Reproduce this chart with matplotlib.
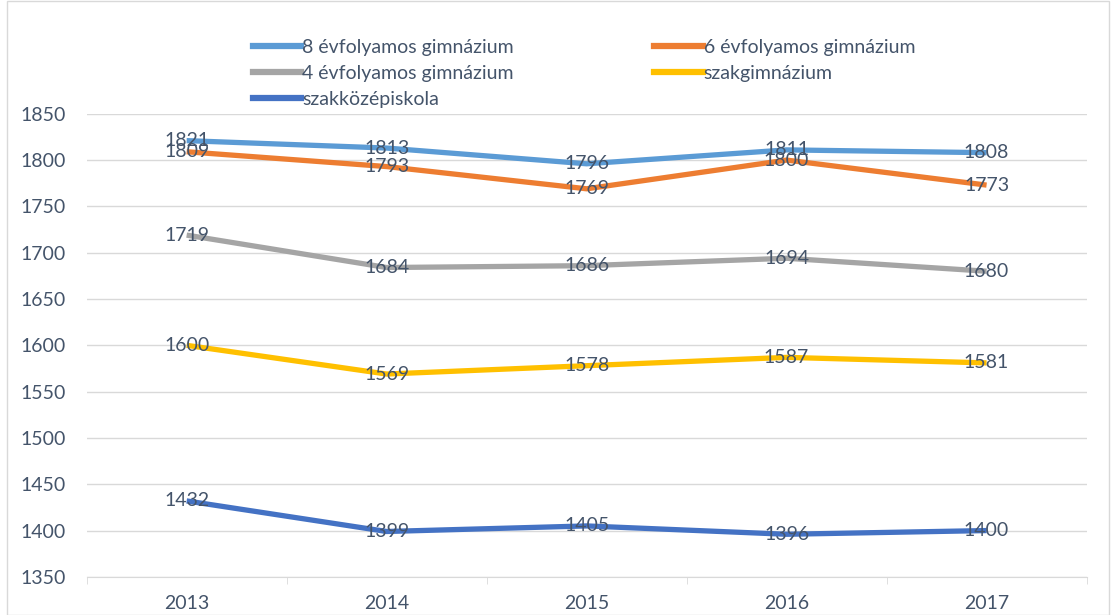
import matplotlib.pyplot as plt
from matplotlib.patches import Rectangle
from matplotlib.lines import Line2D

years = ['2013', '2014', '2015', '2016', '2017']
names = ['8 évfolyamos gimnázium', '6 évfolyamos gimnázium', '4 évfolyamos gimnázium',
         'szakgimnázium', 'szakközépiskola']
gimn8 = [1821, 1813, 1796, 1811, 1808]
gimn6 = [1809, 1793, 1769, 1800, 1773]
gimn4 = [1719, 1684, 1686, 1694, 1680]
szakgimn = [1600, 1569, 1578, 1587, 1581]
szakkozep = [1432, 1399, 1405, 1396, 1400]
series = [gimn8, gimn6, gimn4, szakgimn, szakkozep]
colors = ['#5B9BD5', '#ED7D31', '#A5A5A5', '#FFC000', '#4472C4']

txt = '#44546A'
plt.rcParams['font.family'] = ['Lato', 'DejaVu Sans']

fig = plt.figure(figsize=(11.11, 6.15), dpi=100)
ax = fig.add_axes([0.078, 0.062, 0.9, 0.753])

x = range(len(years))
for vals, name, c in zip(series, names, colors):
    ax.plot(x, vals, color=c, lw=3.8, solid_capstyle='butt', label=name, zorder=3)
    # data labels centered on the points, like the original
    for i, v in zip(x, vals):
        ax.text(i, v, str(v), ha='center', va='center', fontsize=14, color=txt, zorder=4)

ax.set_xlim(-0.5, 4.5)
ax.set_ylim(1350, 1850)
ax.set_yticks(range(1350, 1851, 50))
ax.set_xticks(list(x))
ax.set_xticklabels(years)
ax.set_xticks([i - 0.5 for i in range(6)], minor=True)
ax.grid(axis='y', color='#D9D9D9', lw=1)
ax.set_axisbelow(True)
for s in ['top', 'right', 'left']:
    ax.spines[s].set_visible(False)
ax.spines['bottom'].set_color('#D9D9D9')
ax.tick_params(axis='y', length=0, labelsize=14, labelcolor=txt, pad=15)
ax.tick_params(axis='x', which='major', length=0, labelsize=14, labelcolor=txt, pad=13)
ax.tick_params(axis='x', which='minor', length=5, color='#D9D9D9')

# row-wise legend order
order = [0, 2, 4, 1, 3]
leg_handles = [Line2D([0], [0], color=colors[k], lw=4.5) for k in order]
fig.legend(leg_handles, [names[k] for k in order], ncol=2, loc='upper left',
           bbox_to_anchor=(0.2205, 0.949), frameon=False, fontsize=14,
           labelcolor=txt, handlelength=2.5, handletextpad=0.05,
           columnspacing=7.2, labelspacing=0.45, borderaxespad=0)

fig.patches.append(Rectangle((0.006, 0.0), 0.992, 0.999, transform=fig.transFigure,
                             fill=False, edgecolor='#D9D9D9', lw=1))

plt.savefig('out.png', dpi=100)
